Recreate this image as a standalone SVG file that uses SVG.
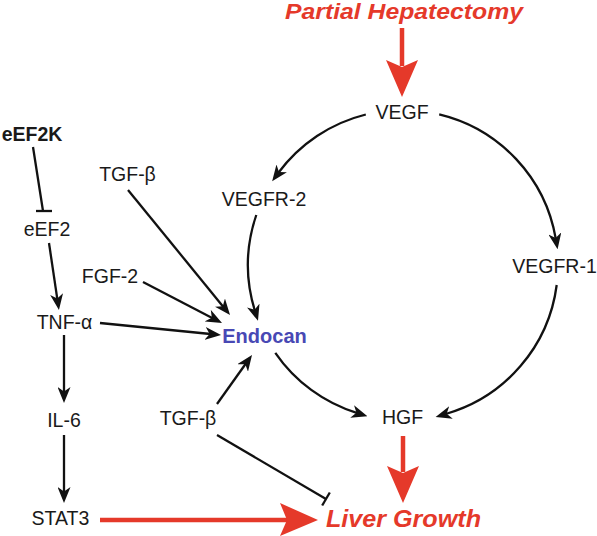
<svg xmlns="http://www.w3.org/2000/svg" width="597" height="536" viewBox="0 0 597 536">
<defs>
<style>
text{font-family:"Liberation Sans",Arial,Helvetica,sans-serif;font-size:19.5px;fill:#1a1a1a;text-anchor:middle}
.b{font-weight:bold}
.red{fill:#E5392A;font-weight:bold;font-style:italic;font-size:24px}
.top{font-size:22px}
.blue{fill:#4848B4;font-weight:bold;font-size:20px}
.c{fill:none;stroke:#111;stroke-width:2.3}
.arr{marker-end:url(#ah)}
.rl{stroke:#E5392A;stroke-width:4.5;fill:none}
.rh{fill:#E5392A;stroke:none}
</style>
<marker id="ah" viewBox="0 0 16 13" refX="5.5" refY="6.5" markerWidth="16" markerHeight="13" markerUnits="userSpaceOnUse" orient="auto">
<path d="M0,0 L16,6.5 L0,13 L4.5,6.5 Z" fill="#111"/>
</marker>
</defs>
<g id="connectors">
<path class="c" d="M33,147 L43,211"/>
<path class="c" d="M36,211 L52,211"/>
<path class="c arr" d="M49,243 L57.4,299.6"/>
<path class="c arr" d="M128,190 L223.4,306.9"/>
<path class="c arr" d="M143,282 L212.7,318.2"/>
<path class="c arr" d="M100,323 L210.6,334"/>
<path class="c arr" d="M64,335 L64,392.5"/>
<path class="c arr" d="M64,435 L64,492.5"/>
<path class="c arr" d="M217,404 L245.9,363.5"/>
<path class="c" d="M217,435 L326,499"/>
<path class="c" d="M322.2,505.5 L329.8,492.5"/>
<path class="c arr" d="M365.8,114.5 A155,155 0 0 0 278.4,172.8"/>
<path class="c arr" d="M439.2,114.3 A155,155 0 0 1 555.8,238.9"/>
<path class="c arr" d="M556.7,285 A155,155 0 0 1 445.7,414"/>
<path class="c arr" d="M256.3,215 A155,155 0 0 0 254.9,310.8"/>
<path class="c arr" d="M275.3,352.8 A155,155 0 0 0 357.4,413.1"/>
<path class="rl" d="M402,28 L402,66"/>
<path class="rh" d="M386,60 L402,67 L418,60 L402,97 Z"/>
<path class="rl" d="M403,436 L403,472"/>
<path class="rh" d="M387,466 L403,473 L419,466 L403,503 Z"/>
<path class="rl" d="M100,520 L287,520"/>
<path class="rh" d="M280,503 L287,520 L280,536 L318,520 Z"/>
</g>
<g id="partial-hepatectomy"><text class="red top" x="404" y="19" textLength="238" lengthAdjust="spacingAndGlyphs">Partial Hepatectomy</text></g>
<g id="vegf"><text x="402" y="119">VEGF</text></g>
<g id="vegfr2"><text x="264" y="206">VEGFR-2</text></g>
<g id="vegfr1"><text x="554.5" y="273">VEGFR-1</text></g>
<g id="eef2k"><text class="b" x="32" y="141">eEF2K</text></g>
<g id="eef2"><text x="47" y="236">eEF2</text></g>
<g id="tgfb1"><text x="127.5" y="181">TGF-β</text></g>
<g id="fgf2"><text x="110" y="283">FGF-2</text></g>
<g id="tnfa"><text x="64.5" y="329">TNF-α</text></g>
<g id="endocan"><text class="blue" x="264.5" y="343">Endocan</text></g>
<g id="il6"><text x="64" y="427">IL-6</text></g>
<g id="tgfb2"><text x="188" y="425">TGF-β</text></g>
<g id="hgf"><text x="402.5" y="424">HGF</text></g>
<g id="stat3"><text x="60.5" y="525">STAT3</text></g>
<g id="liver-growth"><text class="red" x="403.5" y="527" textLength="155" lengthAdjust="spacingAndGlyphs">Liver Growth</text></g>
</svg>
